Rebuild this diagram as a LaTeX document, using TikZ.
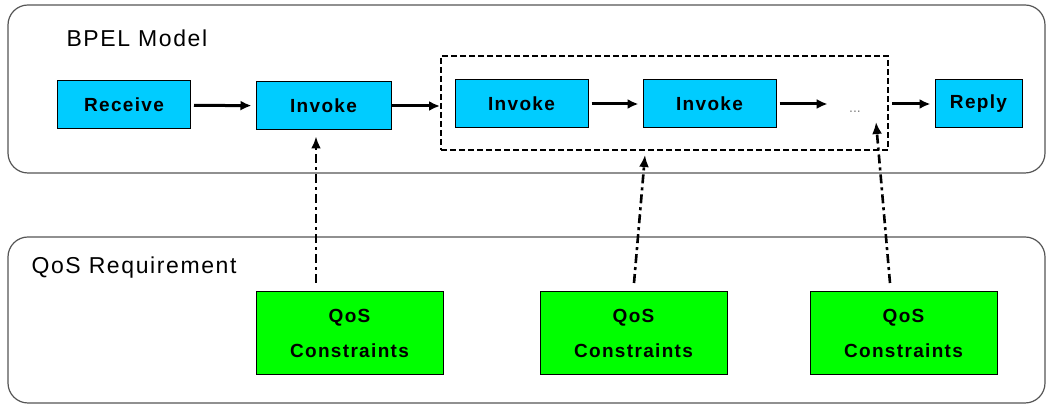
\documentclass[tikz,border=0pt]{standalone}
\usepackage{fontspec}
\setmainfont{Liberation Sans}
\newfontfamily\boxfont[LetterSpace=7]{Liberation Sans}
\newfontfamily\titlefont[LetterSpace=7]{Liberation Sans}
\usetikzlibrary{arrows.meta,calc}

\definecolor{actblue}{HTML}{00CCFF}
\definecolor{qosgreen}{HTML}{00FF00}
\definecolor{framegray}{HTML}{555555}

\tikzset{
	layer/.style = {draw = framegray, line width = 1.2pt, rounded corners = 20},
	title/.style = {anchor = west, font = \titlefont\fontsize{23}{26}\selectfont},
	act/.style = {draw, fill = actblue, line width = 1pt, minimum width = 133, minimum height = 48, inner sep = 0pt,
		font = \boxfont\bfseries\fontsize{19}{22}\selectfont},
	qos/.style = {draw, fill = qosgreen, line width = 1pt, minimum width = 187, minimum height = 83, inner sep = 0pt,
		align = center, font = \boxfont\bfseries\fontsize{19}{35}\selectfont},
	flow/.style = {-{Latex[length = 11pt, width = 10pt]}, line width = 3pt, shorten > = 4pt, shorten < = 3pt},
	need/.style = {-{Latex[length = 12pt, width = 10pt]}, line width = 2.6pt,
		dash pattern = on 9pt off 4pt on 3pt off 4pt}
}

\begin{document}
\begin{tikzpicture}[x = 1pt, y = 1pt]
	\useasboundingbox (0, 0) rectangle (1050, 406);
	
	%	layers
	\draw[layer] (8, 233) rectangle (1045, 401);
	\draw[layer] (8, 3) rectangle (1045, 169);
	\node[title] (bpel) at (63, 368) {BPEL Model};
	\node[title] (req) at (28, 138) {QoS Requirement};
	
	%	process
	\node[act] (receive) at (124, 301) {Receive};
	\node[act, minimum width = 135] (invoke1) at (323.5, 300) {Invoke};
	\node[draw, line width = 2pt, dash pattern = on 6pt off 3pt, minimum width = 447, minimum height = 94] (loop) at (664.5, 303) {};
	\node[act] (invoke2) at (521.5, 302) {Invoke};
	\node[act] (invoke3) at (709.5, 302) {Invoke};
	\node[gray, font = \fontsize{14}{16}\selectfont] (dots) at (855, 294) {...};
	\node[act, minimum width = 87] (reply) at (978.5, 302) {Reply};
	
	\draw[flow] (receive) -- (invoke1);
	\draw[flow, shorten > = 0pt, shorten < = 0pt] (invoke1.east) -- (invoke1.east -| loop.west);
	\draw[flow] (invoke2) -- (invoke3);
	\draw[flow] (invoke3.east) -- ($(invoke3.east -| dots.west)+(-14, 0)$);
	\draw[flow] (loop.east |- reply) -- (reply);
	
	%	constraints
	\node[qos] (qos1) at (349.5, 73) {QoS\\Constraints};
	\node[qos] (qos2) at (633.5, 73) {QoS\\Constraints};
	\node[qos] (qos3) at (903.5, 73) {QoS\\Constraints};
	
	\coordinate (s1) at (316, 123);
	\coordinate (s2) at (634, 123);
	\coordinate (s3) at (890, 123);
	\coordinate (t2) at (645, 251);
	\coordinate (t3) at (876, 284);
	
	\draw[need, shorten > = 6pt] (s1) -- (s1 |- invoke1.south);
	\draw[need] (s2) -- (t2);
	\draw[need] (s3) -- (t3);
\end{tikzpicture}
\end{document}
